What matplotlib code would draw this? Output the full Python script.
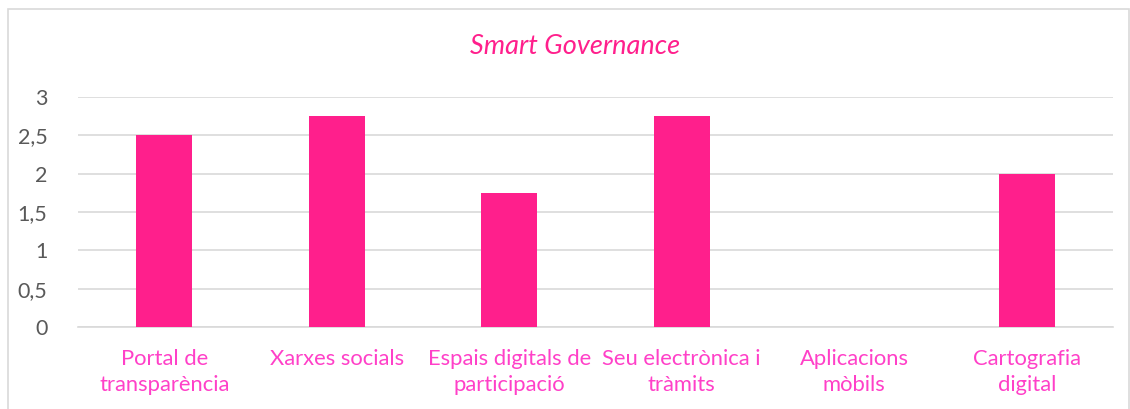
import matplotlib
matplotlib.use("Agg")
import matplotlib.pyplot as plt
from matplotlib.patches import Rectangle
from matplotlib.ticker import FuncFormatter

categories = ["Portal de\ntransparència", "Xarxes socials", "Espais digitals de\nparticipació",
              "Seu electrònica i\ntràmits", "Aplicacions\nmòbils", "Cartografia\ndigital"]
values = [2.5, 2.75, 1.75, 2.75, 0, 2]
yticks = [0, 0.5, 1, 1.5, 2, 2.5, 3]

plt.rcParams['font.family'] = ['Lato', 'DejaVu Sans']

fig = plt.figure(figsize=(11.30, 4.09), dpi=100)
ax = fig.add_axes([78/1130, 1 - 327/409, (1113-78)/1130, (327-97)/409])

x = list(range(len(categories)))
ax.bar(x, values, width=0.325, color="#FF1F8C", zorder=3)
ax.set_xlim(-0.5, len(categories) - 0.5)
ax.set_ylim(0, 3)
ax.set_yticks(yticks)
ax.yaxis.set_major_formatter(FuncFormatter(lambda v, p: f"{v:g}".replace(".", ",")))
ax.set_xticks(x)
ax.set_xticklabels(categories, color="#FF40C8", fontsize=15.8, linespacing=1.35)
ax.tick_params(axis="y", colors="#595959", labelsize=15.5, length=0, pad=22)
ax.tick_params(axis="x", length=0, pad=16)
ax.grid(axis="y", color="#D9D9D9", linewidth=1.2, zorder=0)
for s in ["top", "right", "left"]:
    ax.spines[s].set_visible(False)
ax.spines["bottom"].set_color("#D9D9D9")
ax.spines["bottom"].set_linewidth(1.2)

fig.text(0.5 + 10/1130, 1 - 47/409, "Smart Governance", ha="center", va="center",
         fontsize=19.5, style="italic", color="#FF1F8C")

# chart frame
fig.patches.append(Rectangle((8/1130, -0.05), (1130-8)/1130 - 0.001, 1 - 9/409 + 0.05,
                             transform=fig.transFigure, fill=False,
                             edgecolor="#D9D9D9", linewidth=1.2))

fig.savefig("out.png", dpi=100)
